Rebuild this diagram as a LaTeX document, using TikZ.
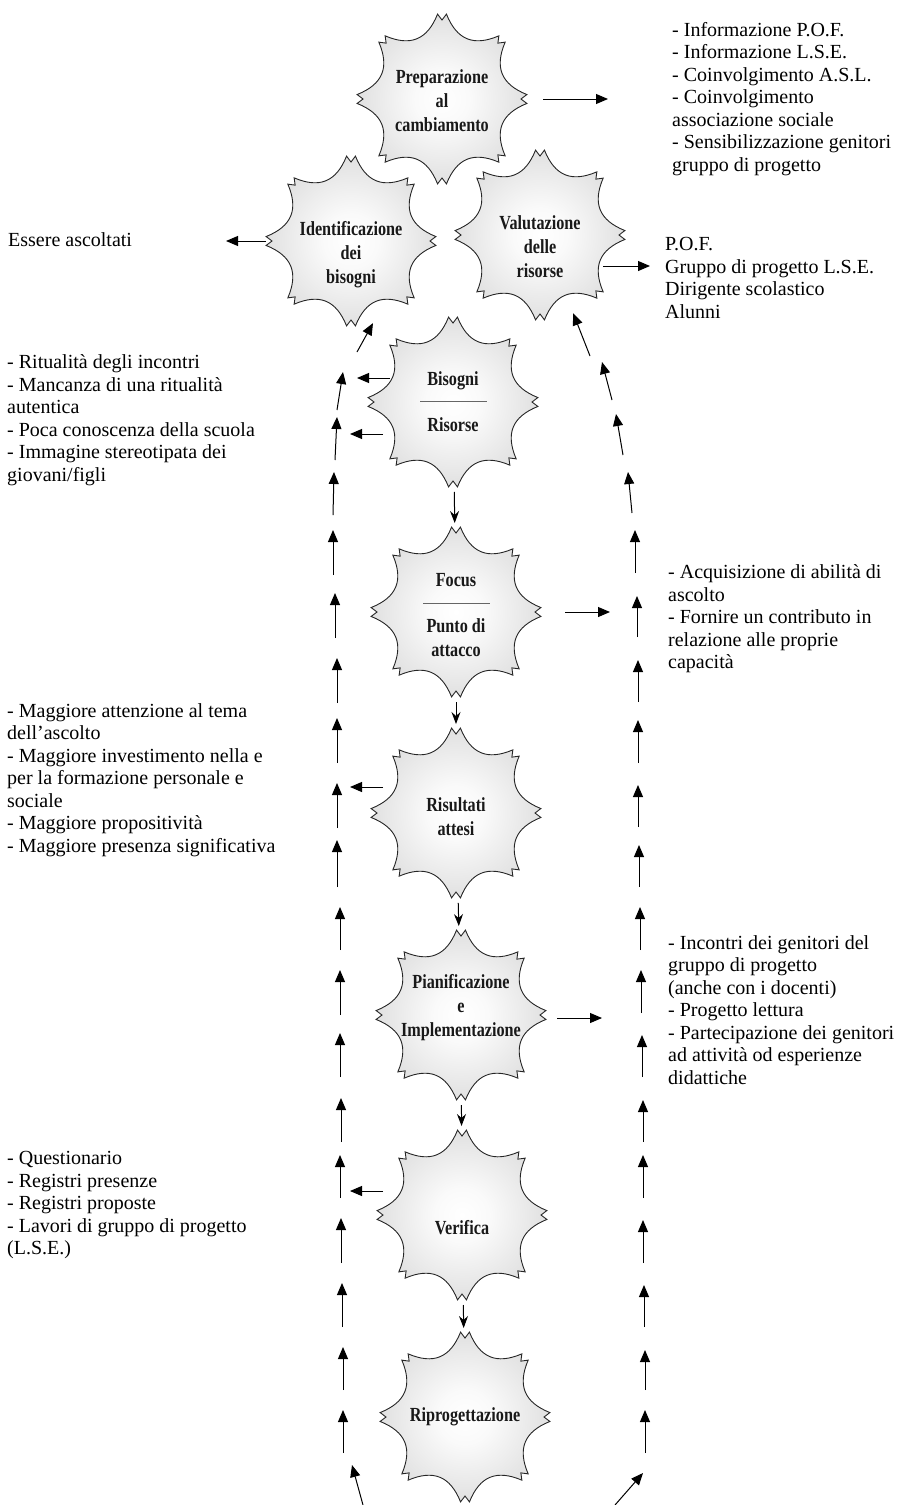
\documentclass[tikz,border=0pt]{standalone}
\usepackage{fontspec}
\setmainfont{Liberation Serif}
\newfontfamily\starfont[FakeStretch=0.81]{Liberation Serif}
\usetikzlibrary{arrows.meta, positioning}

\pgfdeclareradialshading{burstshade}{\pgfpoint{0bp}{0bp}}{color(0bp)=(white); color(8bp)=(black!2); color(32bp)=(black!16); color(50bp)=(black!30)}

% eight-point burst behind each step
\tikzset{
  burst/.pic={
    \shadedraw[shading=burstshade, draw=black!85, line width=0.9pt]
      (87:85) \foreach \a in {90,135,...,405} {-- (\a:79) -- (\a+3:85) .. controls (\a+14:61) and (\a+31:61) .. (\a+42:85)} -- cycle;
  }
}

\begin{document}
\begin{tikzpicture}[x=1pt, y=-1pt,
  hub/.style={circle, minimum size=170pt, inner sep=0pt, outer sep=0pt},
  hubtext/.style={font=\starfont\bfseries\fontsize{20}{24}\selectfont, text=black!90, align=center},
  note/.style={font=\fontsize{20}{22.5}\selectfont, align=left, anchor=west, inner sep=0pt},
  sidearrow/.style={-{Triangle[length=12pt,width=10pt]}, line width=1pt},
  looparrow/.style={-{Triangle[length=12pt,width=10pt]}, line width=1pt},
  flowarrow/.style={-{Stealth[length=12pt,width=9pt,inset=4pt]}, line width=1pt, shorten <=5pt, shorten >=4pt},
  sepline/.style={draw=black!60, line width=1pt}
]
\useasboundingbox (0,0) rectangle (899,1505);

% the steps
\pic at (442,99) {burst};
\node[hub, label={[hubtext,yshift=-2pt]center:Preparazione\\al\\cambiamento}] (prep) at (442,99) {};
\pic at (351,241) {burst};
\node[hub, label={[hubtext,yshift=-14pt]center:Identificazione\\dei\\bisogni}] (ident) at (351,241) {};
\pic at (540,235) {burst};
\node[hub, label={[hubtext,yshift=-12pt]center:Valutazione\\delle\\risorse}] (valut) at (540,235) {};
\pic at (453,402) {burst};
\node[hub, label={[hubtext]center:Bisogni\\[22pt]Risorse}] (bis) at (453,402) {};
\pic at (456,612) {burst};
\node[hub, label={[hubtext,yshift=-3pt]center:Focus\\[22pt]Punto di\\attacco}] (focus) at (456,612) {};
\pic at (456,813) {burst};
\node[hub, label={[hubtext,yshift=-4pt]center:Risultati\\attesi}] (risult) at (456,813) {};
\pic at (461,1015) {burst};
\node[hub, label={[hubtext,yshift=7pt]center:Pianificazione\\e\\Implementazione}] (pian) at (461,1015) {};
\pic at (462,1215) {burst};
\node[hub, label={[hubtext,yshift=-13pt]center:Verifica}] (verif) at (462,1215) {};
\pic at (465,1417) {burst};
\node[hub, label={[hubtext]center:Riprogettazione}] (riprog) at (465,1417) {};

\draw[sepline] ([xshift=-33pt,yshift=1pt]bis.center) -- ([xshift=34pt,yshift=1pt]bis.center);
\draw[sepline] ([xshift=-33pt,yshift=9pt]focus.center) -- ([xshift=34pt,yshift=9pt]focus.center);

% main flow
\draw[flowarrow] (bis) -- (focus);
\draw[flowarrow] (focus) -- (risult);
\draw[flowarrow] (risult) -- (pian);
\draw[flowarrow] (pian) -- (verif);
\draw[flowarrow] (verif) -- (riprog);

% notes
\node[note] (preplist) at (672,99) {- Informazione P.O.F.\\- Informazione L.S.E.\\- Coinvolgimento A.S.L.\\- Coinvolgimento\\associazione sociale\\- Sensibilizzazione genitori\\gruppo di progetto};
\node[note] (valutlist) at (665,278) {P.O.F.\\Gruppo di progetto L.S.E.\\Dirigente scolastico\\Alunni};
\node[note] (focuslist) at (668,619) {- Acquisizione di abilità di\\ascolto\\- Fornire un contributo in\\relazione alle proprie\\capacità};
\node[note] (pianlist) at (668,1010) {- Incontri dei genitori del\\gruppo di progetto\\(anche con i docenti)\\- Progetto lettura\\- Partecipazione dei genitori\\ad attività od esperienze\\didattiche};
\node[note] (identlist) at (8,240) {Essere ascoltati};
\node[note] (bislist) at (7,420) {- Ritualità degli incontri\\- Mancanza di una ritualità\\autentica\\- Poca conoscenza della scuola\\- Immagine stereotipata dei\\giovani/figli};
\node[note] (risultlist) at (7,780) {- Maggiore attenzione al tema\\dell’ascolto\\- Maggiore investimento nella e\\per la formazione personale e\\sociale\\- Maggiore propositività\\- Maggiore presenza significativa};
\node[note] (veriflist) at (7,1205) {- Questionario\\- Registri presenze\\- Registri proposte\\- Lavori di gruppo di progetto\\(L.S.E.)};

% arrows to the notes
\draw[sidearrow] ([xshift=16pt]prep.east) -- ++(65,0);
\draw[sidearrow] (ident.west) -- ++(-40,0);
\draw[sidearrow] ([shift={(63,31)}]valut.center) -- ++(47,0);
\draw[sidearrow] ([shift={(-63,-24)}]bis.center) -- ++(-33,0);
\draw[sidearrow] ([shift={(-70,32)}]bis.center) -- ++(-33,0);
\draw[sidearrow] ([xshift=24pt]focus.east) -- ++(45,0);
\draw[sidearrow] ([shift={(-73,-26)}]risult.center) -- ++(-33,0);
\draw[sidearrow] ([shift={(96,3)}]pian.center) -- ++(45,0);
\draw[sidearrow] ([shift={(-79,-24)}]verif.center) -- ++(-33,0);

% feedback loop, left side
\foreach \xa/\ya/\xb/\yb in {363/1505/352/1465, 343/1453/343/1410, 343/1390/343/1347, 342/1327/342/1283,
    341/1263/341/1218, 340/1198/340/1155, 341/1142/341/1098, 340/1077/340/1033, 340/1015/340/970,
    340/950/340/907, 337/887/337/840, 337/828/337/783, 337/763/337/718, 337/703/337/658,
    335/638/335/593, 333/575/333/530, 333/515/334/472, 335/460/337/417, 337/410/343/372}
  \draw[looparrow] (\xa,\ya) -- (\xb,\yb);
\coordinate (ltop) at (357,352);
\draw[looparrow] (ltop) -- (ident.-75);

% feedback loop, right side
\foreach \xa/\ya/\xb/\yb in {615/1505/643/1473, 645/1453/645/1410, 645/1390/645/1350, 644/1327/644/1285,
    643/1263/643/1220, 643/1198/643/1155, 643/1142/643/1100, 642/1077/642/1035, 641/1013/641/970,
    640/950/640/907, 639/887/639/845, 638/827/638/785, 638/763/638/720, 638/702/638/660,
    637/637/637/596, 635/573/635/530, 632/513/628/472, 623/455/616/414, 612/400/602/362}
  \draw[looparrow] (\xa,\ya) -- (\xb,\yb);
\coordinate (rtop) at (590,356);
\draw[looparrow] (rtop) -- (valut.-67);
\end{tikzpicture}
\end{document}
